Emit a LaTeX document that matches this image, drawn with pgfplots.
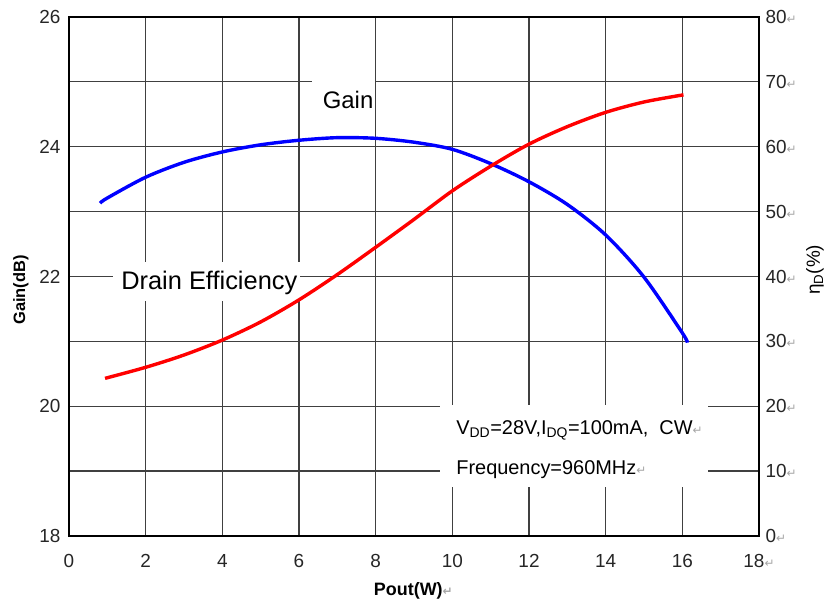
\documentclass[border=0pt]{standalone}
\usepackage{pgfplots}
\pgfplotsset{compat=1.18}
\usepackage{fontspec}
\setmainfont{Liberation Sans}
\newfontfamily\symfont{DejaVu Sans}
\newcommand{\ret}{{\color{black!35}\symfont\fontsize{12}{12}\selectfont ↵}}
\begin{document}
\begin{tikzpicture}
\begin{axis}[
  scale only axis, width=690bp, height=519bp,
  xmin=0, xmax=18, ymin=18, ymax=26,
  xtick={0,2,...,18}, ytick={18,20,...,26}, minor ytick={19,21,23,25},
  xticklabels={0,2,4,6,8,10,12,14,16,{18\ret}},
  grid=both,
  grid style={black!75, line width=1.25bp},
  minor grid style={black!75, line width=1.25bp},
  major tick length=0pt, minor tick length=0pt,
  axis line style={line width=2.4bp, black},
  /pgf/number format/assume math mode=true,
  tick label style={font=\fontsize{19}{19}\selectfont, black!85},
  yticklabel style={xshift=-5bp},
  xticklabel style={yshift=-15bp},
  clip=false,
]
\addplot[blue, line width=3.4bp, smooth] coordinates {
(0.81,23.13)(1,23.21)(2,23.53)(3,23.76)(4,23.92)(5,24.03)(6,24.10)(7,24.14)
(8,24.13)(9,24.07)(10,23.96)(11,23.74)(12,23.46)(13,23.11)(14,22.64)
(15,21.99)(16,21.13)(16.13,20.98)};
% white label boxes
\fill[white] (axis cs:6.34,25.18) rectangle (axis cs:7.97,24.34);
\node[font=\fontsize{24}{24}\selectfont, inner sep=0pt] at (axis cs:7.28,24.72) {Gain};
\fill[white] (axis cs:1.15,22.22) rectangle (axis cs:6.03,21.62);
\node[font=\fontsize{25.5}{25.5}\selectfont, inner sep=0pt] at (axis cs:3.66,21.90) {Drain Efficiency};
\fill[white] (axis cs:9.68,20.02) rectangle (axis cs:16.67,18.755);
\node[font=\fontsize{20}{20}\selectfont, inner sep=0pt, anchor=west] at (axis cs:10.10,19.63) {V\textsubscript{DD}=28V,I\textsubscript{DQ}=100mA,\ \ CW\ret};
\node[font=\fontsize{20}{20}\selectfont, inner sep=0pt, anchor=west] at (axis cs:10.10,19.02) {Frequency=960MHz\ret};
% axis labels
\node[rotate=90, font=\bfseries\fontsize{16.5}{16.5}\selectfont] at ([xshift=-48bp]rel axis cs:0,0.474) {Gain(dB)};
\node[font=\bfseries\fontsize{18}{18}\selectfont] at ([yshift=-55bp]rel axis cs:0.499,0) {Pout(W)\ret};
\node[rotate=90, font=\fontsize{19}{19}\selectfont] at ([xshift=56bp]rel axis cs:1,0.513) {η\textsubscript{D}(\%)};
\end{axis}
\begin{axis}[
  scale only axis, width=690bp, height=519bp,
  xmin=0, xmax=18, ymin=0, ymax=80,
  axis x line=none, axis y line*=right,
  ytick={0,10,...,80},
  yticklabel={\pgfmathprintnumber{\tick}\ret},
  major tick length=0pt,
  axis line style={line width=2.4bp, black},
  /pgf/number format/assume math mode=true,
  tick label style={font=\fontsize{19}{19}\selectfont, black!85},
  yticklabel style={xshift=3bp},
]
\addplot[red, line width=3.4bp, smooth] coordinates {
(0.94,24.3)(2,26.0)(3,27.9)(4,30.2)(5,33.0)(6,36.4)(7,40.3)(8,44.5)(9,48.8)
(10,53.2)(11,57.0)(12,60.4)(13,63.1)(14,65.3)(15,66.9)(16.03,68.0)};
\end{axis}
\pgfresetboundingbox
\path[use as bounding box] ([xshift=-69bp,yshift=-70bp]current axis.south west) rectangle ([xshift=75bp,yshift=17bp]current axis.north east);
\end{tikzpicture}
\end{document}
